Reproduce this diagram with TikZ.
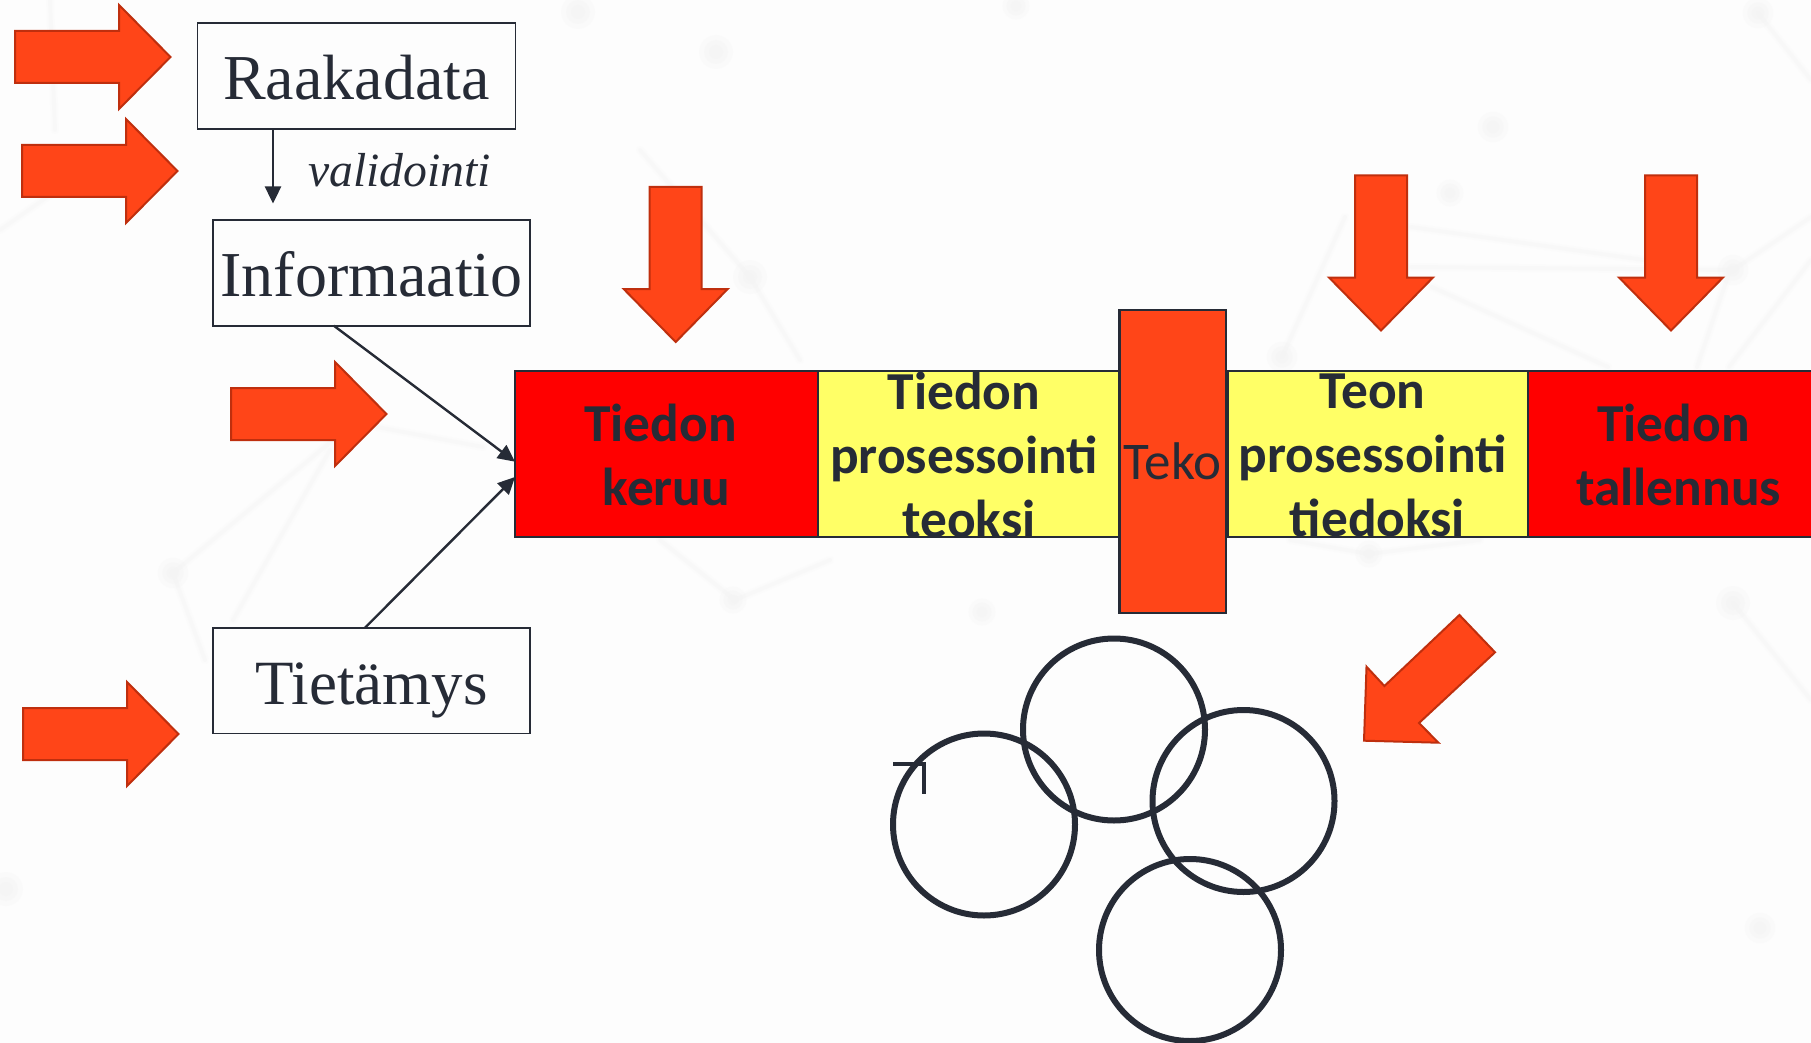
\documentclass[tikz,border=0pt]{standalone}
\usepackage{fontspec}
\setmainfont{Liberation Serif}
\newfontfamily\calib{Carlito}
\usetikzlibrary{arrows.meta,calc}
\definecolor{ink}{HTML}{262B36}
\definecolor{orangefill}{HTML}{FF4518}
\definecolor{orangeline}{HTML}{BF2F0E}
\definecolor{barred}{HTML}{FF0000}
\definecolor{baryellow}{HTML}{FFFF66}
\definecolor{paper}{HTML}{FDFDFD}
\definecolor{faint}{HTML}{F8F8F8}
\definecolor{faintdot}{HTML}{F4F4F4}
\tikzset{
  termbox/.style={draw=ink,line width=1.9pt,fill=paper,inner sep=0pt,outer sep=0pt,text=ink,anchor=north west,text height=60pt,text depth=13.1pt},
  cell/.style={draw=ink,line width=2.2pt,inner sep=0pt,outer sep=0pt,anchor=north west,minimum height=166.3pt},
  celltext/.style={text=ink,align=center,inner sep=0pt,font=\calib\bfseries\fontsize{53.4}{64}\selectfont},
  bigarrow/.style={fill=orangefill,draw=orangeline,line width=2pt,line join=miter},
  link/.style={draw=ink,line width=2.4pt,-{Triangle[length=17pt,width=16pt]}},
  ring/.style={draw=ink,line width=6pt,circle,minimum size=182pt,inner sep=0pt,outer sep=0pt},
  netline/.style={draw=faint,line width=4pt,line cap=round,opacity=.7},
  netglow/.style={draw=faint,line width=8pt,line cap=round,opacity=.3}
}
\newcommand{\rightblock}[2]{\path[bigarrow] (#1,#2-26) -- (#1+104,#2-26) -- (#1+104,#2-52) -- (#1+155.5,#2) -- (#1+104,#2+52) -- (#1+104,#2+26) -- (#1,#2+26) -- cycle;}
\newcommand{\downblock}[2]{\path[bigarrow] (#1-26,#2) -- (#1+26,#2) -- (#1+26,#2+102) -- (#1+52,#2+102) -- (#1,#2+155) -- (#1-52,#2+102) -- (#1-26,#2+102) -- cycle;}
\newcommand{\netedge}[4]{\draw[netglow] (#1,#2) -- (#3,#4);\draw[netline] (#1,#2) -- (#3,#4);}
\newcommand{\netspot}[3]{\fill[faintdot,opacity=.25] (#1,#2) circle (#3*1.7);\fill[faintdot,opacity=.35] (#1,#2) circle (#3*1.2);\fill[faintdot,opacity=.5] (#1,#2) circle (#3*.7);}
\begin{document}
\begin{tikzpicture}[x=1pt,y=-1pt]
\useasboundingbox (0,0) rectangle (1811,1043);
\fill[paper] (0,0) rectangle (1811,1043);
% faint background network
\netedge{173}{573}{333}{440}
\netedge{233}{620}{330}{450}
\netedge{173}{573}{205}{660}
\netedge{377}{427}{483}{447}
\netedge{50}{0}{55}{130}
\netedge{0}{230}{50}{195}
\netedge{735}{600}{660}{540}
\netedge{735}{600}{830}{560}
\netedge{750}{277}{640}{150}
\netedge{750}{277}{800}{360}
\netedge{1369}{554}{1290}{540}
\netedge{1369}{554}{1480}{540}
\netedge{1411}{267}{1733}{270}
\netedge{1411}{227}{1644}{260}
\netedge{1432}{287}{1608}{367}
\netedge{1733}{270}{1811}{217}
\netedge{1697}{367}{1729}{273}
\netedge{1729}{367}{1811}{260}
\netedge{1758}{13}{1811}{80}
\netedge{1282}{357}{1345}{217}
\netedge{1733}{603}{1811}{700}
\netspot{173}{573}{9}
\netspot{733}{600}{8}
\netspot{750}{277}{10}
\netspot{1369}{554}{8}
\netspot{716}{52}{10}
\netspot{578}{12}{10}
\netspot{1016}{6}{8}
\netspot{982}{612}{8}
\netspot{6}{889}{10}
\netspot{1282}{357}{9}
\netspot{1733}{270}{9}
\netspot{1758}{13}{9}
\netspot{1493}{127}{9}
\netspot{1450}{193}{8}
\netspot{1733}{603}{10}
\netspot{1760}{928}{9}
% bar
\node[cell,fill=barred,minimum width=302.7pt] (keruu) at (515,370.7) {};
\node[cell,fill=baryellow,minimum width=302.7pt] (prosA) at (817.7,370.7) {};
\node[cell,fill=baryellow,minimum width=300pt] (prosB) at (1228,370.7) {};
\node[cell,fill=barred,minimum width=300pt] (tallennus) at (1528,370.7) {};
\node[celltext] (tKeruu) at (660.5,454.5) {Tiedon\\\hspace*{12pt}keruu};
\node[celltext] (tProsA) at (964,455) {Tiedon\\prosessointi\\\hspace*{10pt}teoksi};
\node[celltext] (tProsB) at (1372.5,455.5) {Teon\\prosessointi\\\hspace*{10pt}tiedoksi};
\node[celltext] (tTall) at (1673.5,454.5) {Tiedon\\\hspace*{10pt}tallennus};
\node[draw=ink,line width=2.2pt,fill=orangefill,inner sep=0pt,outer sep=0pt,anchor=north west,minimum width=106.6pt,minimum height=303pt,text=ink,font=\calib\fontsize{53}{58}\selectfont] (teko) at (1119.4,310) {\raisebox{-1pt}{Teko}};
% terms
\node[termbox,minimum width=318pt,minimum height=106pt,font=\fontsize{64}{72}\selectfont] (raaka) at (197.5,23) {Raakadata};
\node[termbox,minimum width=317.6pt,minimum height=105.7pt,font=\fontsize{64}{72}\selectfont] (info) at (212.8,220) {Informaatio};
\node[termbox,minimum width=317.6pt,minimum height=105.5pt,font=\fontsize{63}{72}\selectfont] (tieto) at (212.8,628) {Tietämys};
\node[text=ink,inner sep=0pt,font=\itshape\fontsize{47.7}{54}\selectfont] (valid) at (399.5,170) {validointi};
% connectors
\draw[link] ([xshift=75.5pt]raaka.south west) -- ([xshift=60.2pt,yshift=16.5pt]info.north west);
\draw[link] ([xshift=121pt]info.south west) -- ([yshift=-7.85pt]keruu.west);
\draw[link] ([xshift=152pt]tieto.north west) -- ([yshift=-23.15pt]keruu.west);
% block arrows
\rightblock{15}{57}
\rightblock{22}{171}
\rightblock{231}{414}
\rightblock{23}{734}
\downblock{675.7}{187}
\downblock{1381}{175.5}
\downblock{1671}{175.5}
\path[bigarrow] (1459.4,615) -- (1495,652.3) -- (1419,723) -- (1438.4,742.7) -- (1364,740.7) -- (1366.5,666.7) -- (1384.4,686) -- cycle;
% rings
\node[ring] (ringA) at (984,824.5) {};
\node[ring] (ringB) at (1114,729.5) {};
\node[ring] (ringC) at (1243.5,801) {};
\node[ring] (ringD) at (1190,950) {};
% small mark
\draw[ink,line width=4pt] (893,764) -- (923.5,764) -- (923.5,794);
\end{tikzpicture}
\end{document}
